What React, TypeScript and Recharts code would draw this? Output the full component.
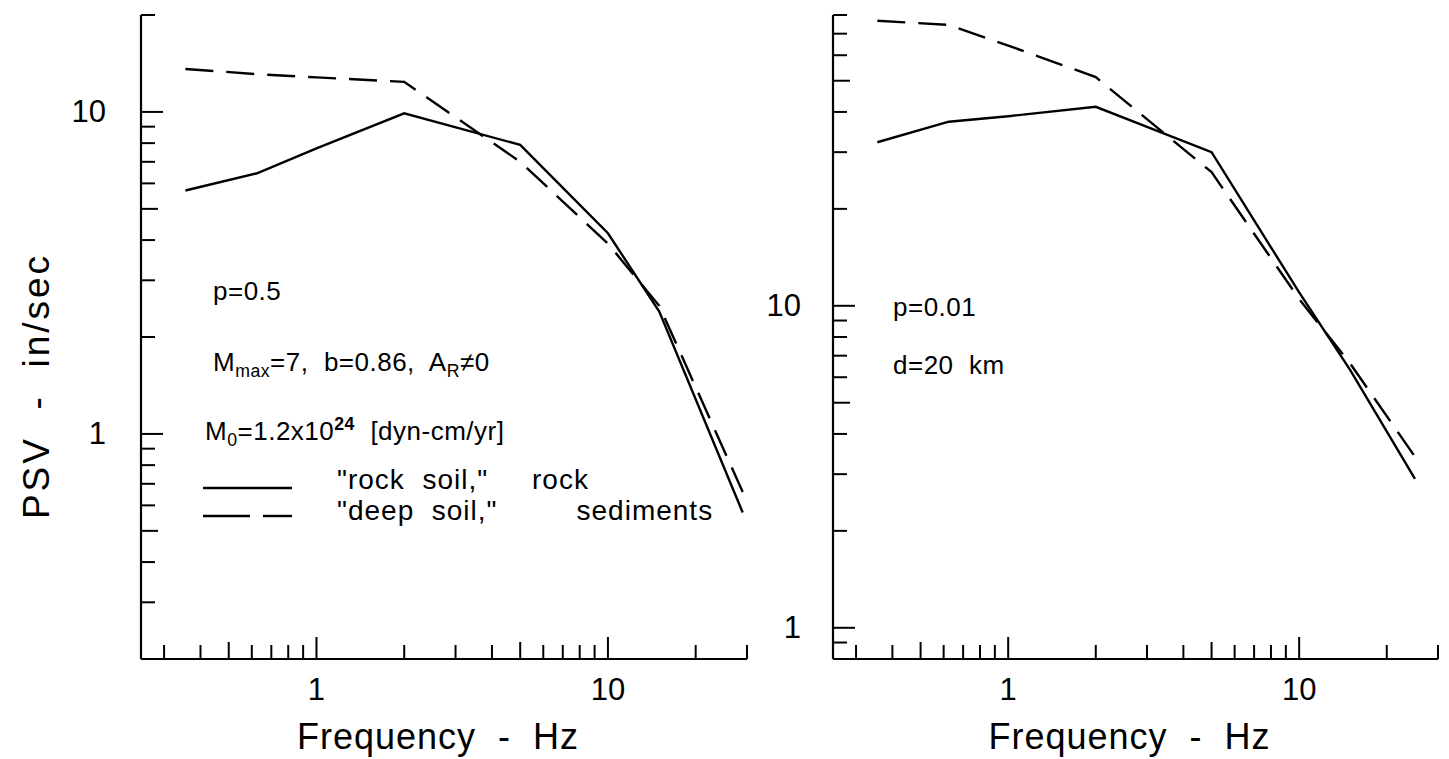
import React from 'react';
import { LineChart, Line, XAxis, YAxis, Legend, Label } from 'recharts';

// frequencies (Hz) at which the spectra were computed
const leftFreqs = [0.355, 0.625, 1, 2, 5, 10, 15, 29];
const rightFreqs = [0.355, 0.625, 1, 2, 5, 10, 15, 25];

// PSV (in/sec), p = 0.5
const rockP05 = [5.7, 6.45, 7.7, 9.9, 7.9, 4.2, 2.4, 0.57];
const deepP05 = [13.6, 13.1, 12.8, 12.4, 7.0, 3.9, 2.5, 0.66];

// PSV (in/sec), p = 0.01, d = 20 km
const rockP001 = [32.2, 37.3, 38.8, 41.5, 30, 11, 6.3, 2.9];
const deepP001 = [76.8, 74.5, 64.3, 51.3, 26, 10.5, 6.6, 3.4];

const xTicks = [0.3, 0.4, 0.5, 0.6, 0.7, 0.8, 0.9, 1, 2, 3, 4, 5, 6, 7, 8, 9, 10, 20, 30];
const leftYTicks = [0.2, 0.3, 0.4, 0.5, 0.6, 0.7, 0.8, 0.9, 1, 2, 3, 4, 5, 6, 7, 8, 9, 10, 20];
const rightYTicks = [0.8, 0.9, 1, 2, 3, 4, 5, 6, 7, 8, 9, 10, 20, 30, 40, 50, 60, 70, 80];
const labelledTicks = [1, 10];

const FONT = '"Liberation Sans", Arial, Helvetica, sans-serif';
const DASH = '28 13';
const NB = '\u00a0';
const LINE_W = 2.4;

const buildRows = (freqs: number[], rock: number[], deep: number[]) =>
    freqs.map((f, i) => ({ f, rock: rock[i], deep: deep[i] }));

const tickLen = (v: number) => (labelledTicks.includes(v) ? 22 : v === 0.5 || v === 5 || v === 50 ? 17 : 14);

const XTick = (props: any) => {
    const { x, y, payload } = props;
    const v = payload.value;
    return (
        <g>
            <line x1={x} y1={y} x2={x} y2={y - tickLen(v)} stroke="#000" strokeWidth={2} />
            {labelledTicks.includes(v) && (
                <text x={x} y={y + 30} textAnchor="middle" dominantBaseline="central" fontSize={31} fontFamily={FONT} fill="#000">
                    {v}
                </text>
            )}
        </g>
    );
};

const makeYTick = (gap: number) => (props: any) => {
    const { x, y, payload } = props;
    const v = payload.value;
    return (
        <g>
            <line x1={x} y1={y} x2={x + tickLen(v)} y2={y} stroke="#000" strokeWidth={2} />
            {labelledTicks.includes(v) && (
                <text x={x - gap} y={y} textAnchor="end" dominantBaseline="central" fontSize={31} fontFamily={FONT} fill="#000">
                    {v}
                </text>
            )}
        </g>
    );
};

const sub = (t: string) => <span style={{ fontSize: '0.68em', position: 'relative', top: '0.35em' }}>{t}</span>;
const sup = (t: string) => <span style={{ fontSize: '0.68em', position: 'relative', top: '-0.55em', fontWeight: 'bold' }}>{t}</span>;

const noteStyle: React.CSSProperties = {
    position: 'absolute',
    fontFamily: FONT,
    fontSize: 26,
    lineHeight: '26px',
    whiteSpace: 'pre',
    color: '#000',
    letterSpacing: 0.5,
};

const renderLegend = (props: any) => {
    const items = [...(props.payload || [])].sort(
        (a: any, b: any) => Number(!!a.payload?.strokeDasharray) - Number(!!b.payload?.strokeDasharray)
    );
    return (
        <div style={{ position: 'relative', width: 540, height: 62, fontFamily: FONT, fontSize: 28, lineHeight: '28px', whiteSpace: 'pre', letterSpacing: 1 }}>
            {items.map((item: any, i: number) => {
                const dashed = !!item.payload?.strokeDasharray;
                return (
                    <div key={i} style={{ position: 'absolute', left: 0, top: i * 31, width: 540, height: 30 }}>
                        <svg width={92} height={30} style={{ position: 'absolute', left: 0, top: 0 }}>
                            {dashed ? (
                                <g stroke="#000" strokeWidth={LINE_W}>
                                    <line x1={0} y1={19} x2={47} y2={19} />
                                    <line x1={60} y1={19} x2={89} y2={19} />
                                </g>
                            ) : (
                                <line x1={0} y1={22} x2={89} y2={22} stroke="#000" strokeWidth={LINE_W} />
                            )}
                        </svg>
                        <span style={{ position: 'absolute', left: 134, top: 0 }}>{item.value}</span>
                    </div>
                );
            })}
        </div>
    );
};

const xTitle = `Frequency${NB}${NB}-${NB}${NB}Hz`;

const App: React.FC = () => {
    const leftData = buildRows(leftFreqs, rockP05, deepP05);
    const rightData = buildRows(rightFreqs, rockP001, deepP001);

    const axisLine = { stroke: '#000', strokeWidth: 2.2 };

    return (
        <div style={{ position: 'absolute', left: 0, top: 0, width: 1449, height: 759, background: '#fff', overflow: 'hidden' }}>
            <div style={{ position: 'absolute', left: 0, top: 0 }}>
                <LineChart width={790} height={759} data={leftData} margin={{ top: 15, right: 43, bottom: 99, left: 140 }}>
                    <XAxis
                        dataKey="f"
                        type="number"
                        scale="log"
                        domain={[0.25, 30]}
                        ticks={xTicks}
                        interval={0}
                        tick={<XTick />}
                        tickSize={0}
                        tickMargin={0}
                        height={1}
                        axisLine={axisLine}
                        allowDataOverflow
                    >
                        <Label value={xTitle} position="bottom" offset={63} dx={-6} style={{ fontSize: 36, fontFamily: FONT, fill: '#000', letterSpacing: 1 }} />
                    </XAxis>
                    <YAxis
                        type="number"
                        scale="log"
                        domain={[0.2, 20]}
                        ticks={leftYTicks}
                        interval={0}
                        tick={makeYTick(35)}
                        tickSize={0}
                        tickMargin={0}
                        width={1}
                        axisLine={axisLine}
                        allowDataOverflow
                    >
                        <Label
                            content={() => (
                                <text
                                    x={36}
                                    y={386}
                                    transform="rotate(-90 36 386)"
                                    textAnchor="middle"
                                    dominantBaseline="central"
                                    fontSize={37}
                                    fontFamily={FONT}
                                    fill="#000"
                                    style={{ whiteSpace: 'pre', letterSpacing: 3 }}
                                >
                                    {'PSV  -  in/sec'}
                                </text>
                            )}
                        />
                    </YAxis>
                    <Legend
                        layout="vertical"
                        align="center"
                        verticalAlign="middle"
                        content={renderLegend}
                        wrapperStyle={{ left: 203, top: 466, width: 540 }}
                    />
                    <Line
                        dataKey="rock"
                        name={`"rock${NB}${NB}soil,"${NB.repeat(5)}rock`}
                        type="linear"
                        stroke="#000"
                        strokeWidth={LINE_W}
                        dot={false}
                        isAnimationActive={false}
                    />
                    <Line
                        dataKey="deep"
                        name={`"deep${NB}${NB}soil,"${NB.repeat(9)}sediments`}
                        type="linear"
                        stroke="#000"
                        strokeWidth={LINE_W}
                        strokeDasharray={DASH}
                        dot={false}
                        isAnimationActive={false}
                    />
                </LineChart>
            </div>

            <div style={{ position: 'absolute', left: 760, top: 0 }}>
                <LineChart width={689} height={759} data={rightData} margin={{ top: 15, right: 11, bottom: 99, left: 72 }}>
                    <XAxis
                        dataKey="f"
                        type="number"
                        scale="log"
                        domain={[0.25, 30]}
                        ticks={xTicks}
                        interval={0}
                        tick={<XTick />}
                        tickSize={0}
                        tickMargin={0}
                        height={1}
                        axisLine={axisLine}
                        allowDataOverflow
                    >
                        <Label value={xTitle} position="bottom" offset={63} dx={-6} style={{ fontSize: 36, fontFamily: FONT, fill: '#000', letterSpacing: 1 }} />
                    </XAxis>
                    <YAxis
                        type="number"
                        scale="log"
                        domain={[0.8, 80]}
                        ticks={rightYTicks}
                        interval={0}
                        tick={makeYTick(32)}
                        tickSize={0}
                        tickMargin={0}
                        width={1}
                        axisLine={axisLine}
                        allowDataOverflow
                    />
                    <Line dataKey="rock" type="linear" stroke="#000" strokeWidth={LINE_W} dot={false} isAnimationActive={false} />
                    <Line
                        dataKey="deep"
                        type="linear"
                        stroke="#000"
                        strokeWidth={LINE_W}
                        strokeDasharray={DASH}
                        dot={false}
                        isAnimationActive={false}
                    />
                </LineChart>
            </div>

            <div style={{ ...noteStyle, left: 213, top: 278 }}>p=0.5</div>
            <div style={{ ...noteStyle, left: 213, top: 349 }}>
                M{sub('max')}=7,  b=0.86,  A{sub('R')}≠0
            </div>
            <div style={{ ...noteStyle, left: 205, top: 418 }}>
                M{sub('0')}=1.2x10{sup('24')}  [dyn-cm/yr]
            </div>
            <div style={{ ...noteStyle, left: 893, top: 294 }}>p=0.01</div>
            <div style={{ ...noteStyle, left: 893, top: 352 }}>d=20  km</div>
        </div>
    );
};

export default App;
